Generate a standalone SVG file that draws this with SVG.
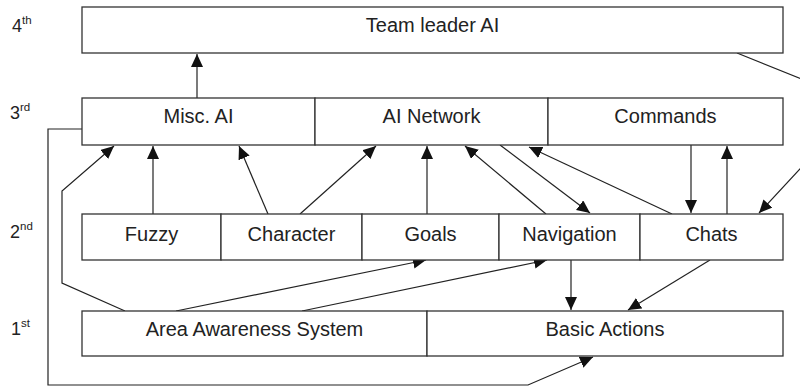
<svg xmlns="http://www.w3.org/2000/svg" width="800" height="387" viewBox="0 0 800 387">
<style>
.box{fill:#fff;stroke:#333;stroke-width:1.3}
.t{font-family:"Liberation Sans",Arial,sans-serif;font-size:20px;fill:#222;text-anchor:middle}
.lv{font-family:"Liberation Sans",Arial,sans-serif;font-size:18px;fill:#222}
.sup{font-size:11.5px}
.c{fill:none;stroke:#222;stroke-width:1.2}
</style>
<defs>
<marker id="ah" markerUnits="userSpaceOnUse" markerWidth="14" markerHeight="13" refX="13" refY="6" orient="auto">
<path d="M0,0 L13,6 L0,12 z" fill="#111"/>
</marker>
</defs>
<g id="levels">
<text class="lv" x="12" y="32">4<tspan class="sup" dy="-8">th</tspan></text>
<text class="lv" x="10" y="119">3<tspan class="sup" dy="-8">rd</tspan></text>
<text class="lv" x="10" y="238">2<tspan class="sup" dy="-8">nd</tspan></text>
<text class="lv" x="11" y="335">1<tspan class="sup" dy="-8">st</tspan></text>
</g>
<g id="connectors">
<line class="c" x1="197" y1="98" x2="197" y2="54" marker-end="url(#ah)"/>
<line class="c" x1="153" y1="214" x2="153" y2="146" marker-end="url(#ah)"/>
<line class="c" x1="268" y1="214" x2="239" y2="146" marker-end="url(#ah)"/>
<line class="c" x1="300" y1="214" x2="376" y2="146" marker-end="url(#ah)"/>
<line class="c" x1="427" y1="214" x2="427" y2="146" marker-end="url(#ah)"/>
<line class="c" x1="546" y1="214" x2="465" y2="146" marker-end="url(#ah)"/>
<line class="c" x1="500" y1="145" x2="590" y2="213" marker-end="url(#ah)"/>
<line class="c" x1="672" y1="214" x2="529" y2="147" marker-end="url(#ah)"/>
<line class="c" x1="691" y1="145" x2="691" y2="213" marker-end="url(#ah)"/>
<line class="c" x1="727" y1="214" x2="727" y2="146" marker-end="url(#ah)"/>
<polyline class="c" points="737,53 861,103 759,213" marker-end="url(#ah)"/>
<polyline class="c" points="125,311 62,283 62,191 114,146" marker-end="url(#ah)"/>
<line class="c" x1="176" y1="311" x2="426" y2="260" marker-end="url(#ah)"/>
<line class="c" x1="302" y1="311" x2="547" y2="260" marker-end="url(#ah)"/>
<line class="c" x1="571" y1="260" x2="571" y2="310" marker-end="url(#ah)"/>
<line class="c" x1="710" y1="260" x2="628" y2="310" marker-end="url(#ah)"/>
<polyline class="c" points="82,129 48,129 48,385 528,385 593,357" marker-end="url(#ah)"/>
</g>
<g id="team-leader"><rect class="box" x="82" y="7" width="701" height="46"/><text class="t" x="432.5" y="32">Team leader AI</text></g>
<g id="misc-ai"><rect class="box" x="82" y="98" width="233" height="47"/><text class="t" x="198.5" y="123">Misc. AI</text></g>
<g id="ai-network"><rect class="box" x="315" y="98" width="233" height="47"/><text class="t" x="431.5" y="123">AI Network</text></g>
<g id="commands"><rect class="box" x="548" y="98" width="235" height="47"/><text class="t" x="665.5" y="123">Commands</text></g>
<g id="fuzzy"><rect class="box" x="82" y="214" width="139" height="46"/><text class="t" x="151.5" y="241">Fuzzy</text></g>
<g id="character"><rect class="box" x="221" y="214" width="141" height="46"/><text class="t" x="291.5" y="241">Character</text></g>
<g id="goals"><rect class="box" x="362" y="214" width="137" height="46"/><text class="t" x="430.5" y="241">Goals</text></g>
<g id="navigation"><rect class="box" x="499" y="214" width="141" height="46"/><text class="t" x="569.5" y="241">Navigation</text></g>
<g id="chats"><rect class="box" x="640" y="214" width="143" height="46"/><text class="t" x="711.5" y="241">Chats</text></g>
<g id="area-awareness"><rect class="box" x="82" y="311" width="345" height="45"/><text class="t" x="254.5" y="336">Area Awareness System</text></g>
<g id="basic-actions"><rect class="box" x="427" y="311" width="356" height="45"/><text class="t" x="605" y="336">Basic Actions</text></g>
</svg>
